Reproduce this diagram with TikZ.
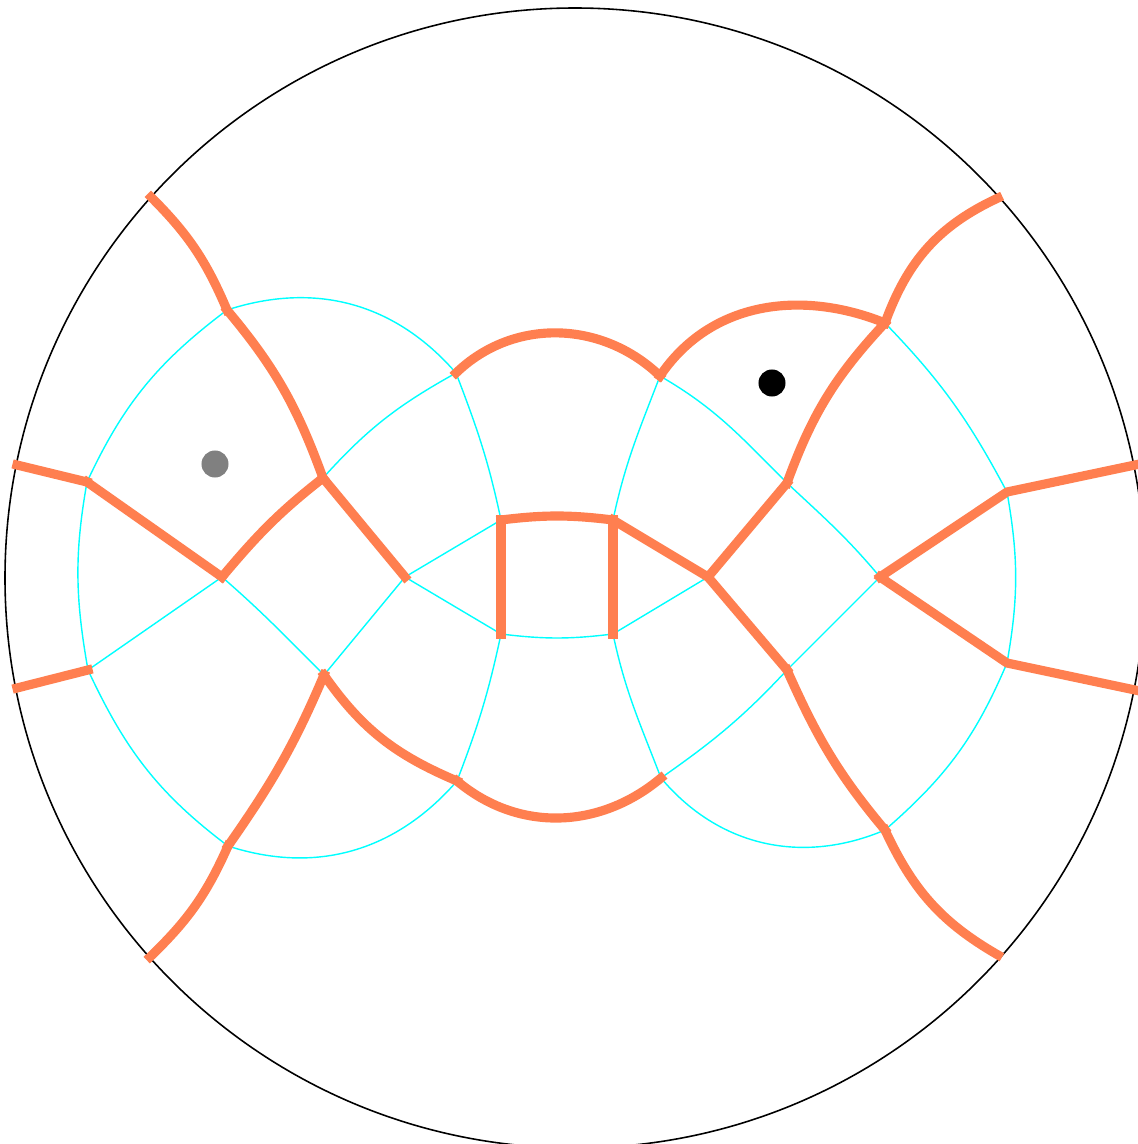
\documentclass[tikz,border=0pt]{standalone}
\usepackage{tikz}
\definecolor{naranja}{HTML}{FF7F50}
\definecolor{cian}{HTML}{00FFFF}
\definecolor{gris}{HTML}{808080}

\begin{document}
\begin{tikzpicture}[x=0.01cm, y=0.01cm,
  corte/.style={naranja, line width=2.6pt, line cap=rect},
  red/.style={cian, line width=0.4pt},
  punto/.style={circle, inner sep=0pt, minimum size=0.27cm}]
\useasboundingbox (0,0) rectangle (1138,1144);
\draw[line width=0.45pt] (575,566) circle[radius=570];
% vertices interiores
\coordinate (A) at (222,567);
\coordinate (C1) at (323,666);
\coordinate (C2) at (324,469);
\coordinate (D) at (405,567);
\coordinate (E1) at (456,771);
\coordinate (E2) at (457,363);
\coordinate (F1) at (501,624);
\coordinate (F2) at (501,510);
\coordinate (G1) at (613,624);
\coordinate (G2) at (613,510);
\coordinate (H1) at (660,768);
\coordinate (H2) at (661,366);
\coordinate (K) at (708,567);
\coordinate (M1) at (787,661);
\coordinate (M2) at (787,474);
\coordinate (N) at (880,567);
% lazos exteriores
\coordinate (L1) at (227,834);
\coordinate (L2) at (87,662);
\coordinate (L3) at (88,474);
\coordinate (L4) at (228,298);
\coordinate (R1) at (885,821);
\coordinate (R2) at (1007,652);
\coordinate (R3) at (1007,481);
\coordinate (R4) at (885,314);
% borde
\coordinate (B1) at (151,947);
\coordinate (B2) at (17,679);
\coordinate (B3) at (17,456);
\coordinate (B4) at (150,187);
\coordinate (B5) at (998,946);
\coordinate (B6) at (1135,679);
\coordinate (B7) at (1135,454);
\coordinate (B8) at (998,189);
% red cian
\draw[red] (E1) to[out=131,in=18] (L1);
\draw[red] (L1) to[out=217,in=65] (L2);
\draw[red] (L2) to[out=260,in=100] (L3);
\draw[red] (L3) to[out=-65,in=143] (L4);
\draw[red] (L4) to[out=-18,in=229] (E2);
\draw[red] (E1) to[out=209,in=48] (C1);
\draw[red] (A) -- (L3);
\draw[red] (A) to[out=-41,in=135] (C2);
\draw[red] (D) -- (C2);
\draw[red] (D) -- (F1);
\draw[red] (D) -- (F2);
\draw[red] (E1) to[out=-69,in=102] (F1);
\draw[red] (F2) to[out=258,in=69] (E2);
\draw[red] (F2) to[out=-7,in=187] (G2);
\draw[red] (H1) to[out=249,in=78] (G1);
\draw[red] (G2) to[out=-78,in=111] (H2);
\draw[red] (G2) -- (K);
\draw[red] (H1) to[out=-30,in=135] (M1);
\draw[red] (M1) to[out=-43,in=130] (N);
\draw[red] (N) -- (M2);
\draw[red] (M2) to[out=227,in=35] (H2);
\draw[red] (R1) to[out=-46,in=118] (R2);
\draw[red] (R2) to[out=-80,in=80] (R3);
\draw[red] (R3) to[out=247,in=41] (R4);
\draw[red] (R4) to[out=203,in=310] (H2);
% cortes
\draw[corte] (B1) to[out=-45,in=113] (L1);
\draw[corte] (L1) to[out=-50,in=110] (C1);
\draw[corte] (C1) -- (D);
\draw[corte] (B2) -- (L2);
\draw[corte] (L2) -- (A);
\draw[corte] (A) to[out=50,in=218] (C1);
\draw[corte] (B3) -- (L3);
\draw[corte] (B4) to[out=44,in=246] (L4);
\draw[corte] (L4) to[out=55,in=247] (C2);
\draw[corte] (C2) to[out=-55,in=157] (E2);
\draw[corte] (E2) to[out=-40,in=220] (H2);
\draw[corte] (E1) to[out=44,in=136] (H1);
\draw[corte] (H1) to[out=56,in=158] (R1);
\draw[corte] (R1) to[out=70,in=205] (B5);
\draw[corte] (R1) to[out=227,in=70] (M1);
\draw[corte] (M1) -- (K);
\draw[corte] (G1) -- (K);
\draw[corte] (K) -- (M2);
\draw[corte] (M2) to[out=-66,in=130] (R4);
\draw[corte] (R4) to[out=-65,in=150] (B8);
\draw[corte] (N) -- (R2) -- (B6);
\draw[corte] (N) -- (R3) -- (B7);
\draw[corte] (F1) -- (F2);
\draw[corte] (G1) -- (G2);
\draw[corte] (F1) to[out=7,in=173] (G1);
% puntos
\node[punto, fill=gris] (p1) at (215,680) {};
\node[punto, fill=black] (p2) at (772,761) {};
\end{tikzpicture}
\end{document}
